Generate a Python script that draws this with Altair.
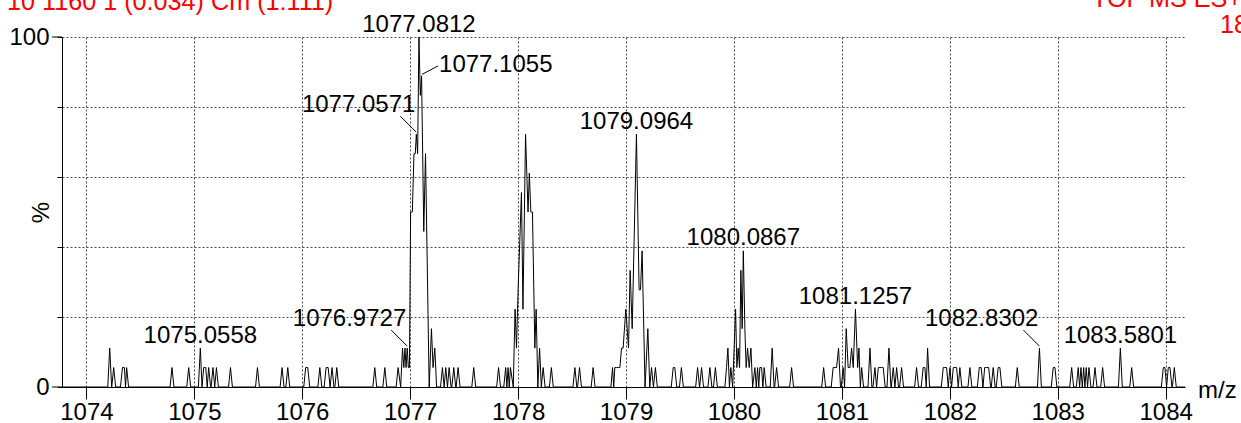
import altair as alt
import pandas as pd

# ---------------------------------------------------------------------------
# Spectrum data (intensities in detector counts; base peak = 18 counts = 100 %)
# ---------------------------------------------------------------------------
BASE_PEAK_COUNTS = 18
MZ_LO, MZ_HI = 1073.774, 1084.179
STEP = 0.018  # sampling interval of the profile (m/z)

HEADER_LEFT = "10 1160 1 (0.034) Cm (1:111)"
HEADER_RIGHT = "TOF MS ES+"

X_TICKS = list(range(1074, 1085))
Y_GRID = list(range(0, 101, 10))
Y_MAJOR = [0, 100]

# isotope clusters, profile samples
ISO_1077_MZ = [1076.912, 1076.929, 1076.941, 1076.952, 1076.962, 1076.9727, 1076.983, 1076.993,
               1077.004, 1077.020, 1077.035, 1077.047, 1077.0571, 1077.069, 1077.0812, 1077.094,
               1077.1055, 1077.126, 1077.142, 1077.176, 1077.197, 1077.212, 1077.228, 1077.245]
ISO_1077_CT = [0, 2, 1, 2, 1, 2, 1, 1,
               9, 9, 12, 12, 13, 12, 18, 15,
               16, 8, 12, 0, 3, 1, 2, 0]

ISO_1078_MZ = [1077.955, 1077.972, 1077.985, 1078.000, 1078.031, 1078.045, 1078.069, 1078.092,
               1078.104, 1078.118, 1078.133, 1078.155, 1078.167, 1078.183, 1078.199, 1078.215]
ISO_1078_CT = [0, 4, 2, 5, 10, 4, 13, 9,
               11, 9, 9, 2, 4, 0, 2, 0]

ISO_1079_MZ = [1078.860, 1078.875, 1078.886, 1078.896, 1078.912, 1078.927, 1078.943, 1078.958,
               1078.973, 1078.998, 1079.023, 1079.038, 1079.057, 1079.0964, 1079.121, 1079.134,
               1079.149, 1079.176, 1079.202, 1079.220]
ISO_1079_CT = [0, 1, 0, 1, 1, 1, 1, 2,
               2, 4, 2, 6, 3, 13, 5, 5,
               7, 0, 3, 0]

ISO_1080_MZ = [1079.916, 1079.931, 1079.944, 1079.958, 1079.971, 1079.988, 1080.015, 1080.027,
               1080.039, 1080.052, 1080.064, 1080.076, 1080.0867, 1080.101, 1080.113, 1080.126,
               1080.141, 1080.157, 1080.173]
ISO_1080_CT = [0, 1, 2, 0, 1, 0, 4, 1,
               2, 1, 6, 3, 7, 3, 1, 2,
               1, 2, 0]

ISO_1081_MZ = [1081.025, 1081.040, 1081.058, 1081.074, 1081.090, 1081.105, 1081.1257, 1081.146,
               1081.158, 1081.171]
ISO_1081_CT = [0, 3, 1, 1, 2, 1, 4, 1,
               2, 0]

# isolated single-sample noise spikes
NOISE_MZ = [1074.216, 1074.253, 1074.334, 1074.352, 1074.373, 1074.793, 1074.948, 1075.0558,
            1075.087, 1075.106, 1075.133, 1075.173, 1075.205, 1075.335, 1075.585, 1075.813,
            1075.866, 1076.032, 1076.051, 1076.163, 1076.221, 1076.240, 1076.276, 1076.320,
            1076.672, 1076.765, 1076.888,
            1077.299, 1077.330, 1077.361, 1077.404, 1077.444, 1077.589, 1077.819, 1077.885,
            1077.907, 1077.929,
            1078.232, 1078.308, 1078.526, 1078.569, 1078.695,
            1079.236, 1079.272, 1079.437, 1079.452, 1079.513, 1079.663, 1079.700, 1079.777,
            1079.828,
            1080.194, 1080.219, 1080.240, 1080.256, 1080.280, 1080.354, 1080.395, 1080.534,
            1080.831, 1080.919, 1080.935, 1080.951, 1080.969, 1081.012,
            1081.183, 1081.260, 1081.306, 1081.337, 1081.352, 1081.368, 1081.383, 1081.436,
            1081.476, 1081.507, 1081.553, 1081.692, 1081.753, 1081.769, 1081.794, 1081.939,
            1081.954, 1081.970, 1082.001, 1082.032, 1082.047, 1082.063, 1082.093, 1082.186,
            1082.273, 1082.291, 1082.323, 1082.341, 1082.360, 1082.402, 1082.448, 1082.464,
            1082.625, 1082.8302, 1082.958, 1082.974, 1083.129, 1083.190, 1083.215, 1083.240,
            1083.264, 1083.289, 1083.345, 1083.416, 1083.5801, 1083.685, 1083.978, 1083.993,
            1084.024, 1084.040, 1084.080]
NOISE_CT = [2, 1, 1, 1, 1, 1, 1, 2,
            1, 1, 1, 1, 1, 1, 1, 1,
            1, 1, 1, 1, 1, 1, 1, 1,
            1, 1, 1,
            1, 1, 1, 1, 1, 1, 1, 1,
            1, 1,
            1, 1, 1, 1, 1,
            1, 1, 1, 1, 1, 1, 1, 1,
            1,
            1, 1, 1, 1, 1, 2, 1, 1,
            1, 1, 1, 1, 2, 1,
            1, 2, 1, 1, 1, 1, 1, 2,
            1, 1, 1, 1, 1, 1, 2, 1,
            1, 1, 1, 1, 1, 1, 1, 1,
            1, 1, 1, 1, 1, 1, 1, 1,
            1, 2, 1, 1, 1, 1, 1, 1,
            1, 1, 1, 1, 2, 1, 1, 1,
            1, 1, 1]

# annotated peaks and where their labels sit
LABEL_MZ = [1075.0558, 1076.9727, 1077.0571, 1077.0812, 1077.1055,
            1079.0964, 1080.0867, 1081.1257, 1082.8302, 1083.5801]
LABEL_PLACEMENT = {1076.9727: "left", 1077.0571: "left", 1082.8302: "left", 1077.1055: "right"}

# ---------------------------------------------------------------------------
# Build the continuous profile trace
# ---------------------------------------------------------------------------
segments = [(ISO_1077_MZ, ISO_1077_CT), (ISO_1078_MZ, ISO_1078_CT), (ISO_1079_MZ, ISO_1079_CT),
            (ISO_1080_MZ, ISO_1080_CT), (ISO_1081_MZ, ISO_1081_CT)]
samples = []
for seg_id, (ms, cs) in enumerate(segments):
    samples += [(m, c, seg_id) for m, c in zip(ms, cs)]
samples += [(m, c, -1) for m, c in zip(NOISE_MZ, NOISE_CT)]
samples.sort()

trace = [(MZ_LO, 0)]
prev = (MZ_LO, 0, -2)
for m, c, s in samples:
    pm, pc, ps = prev
    if not (s == ps and s >= 0):
        gap = m - pm
        if gap > 2 * STEP:
            if pc:
                trace.append((pm + STEP, 0))
            if c:
                trace.append((m - STEP, 0))
        elif gap > 1.15 * STEP and pc and c:
            trace.append(((pm + m) / 2, 0))
    trace.append((m, c))
    prev = (m, c, s)
if prev[1]:
    trace.append((prev[0] + STEP, 0))
trace.append((MZ_HI, 0))

to_pct = 100.0 / BASE_PEAK_COUNTS
trace_df = pd.DataFrame({
    "i": range(len(trace)),
    "mz": [t[0] for t in trace],
    "pct": [t[1] * to_pct for t in trace],
})
counts_at = {m: c for m, c, _ in samples}

# ---------------------------------------------------------------------------
# Chart
# ---------------------------------------------------------------------------
FONT = "Liberation Sans"
FS = 24
HEADER_FS = 25.2
W, H = 1123, 350
GRID_COLOR = "#4a4a4a"
GRID_DASH = [2, 2]

x_scale = alt.Scale(domain=[MZ_LO, MZ_HI], nice=False, zero=False)
y_scale = alt.Scale(domain=[0, 100], nice=False, zero=True)

line = alt.Chart(trace_df).mark_line(color="black", strokeWidth=1).encode(
    x=alt.X("mz:Q", scale=x_scale, axis=alt.Axis(
        values=X_TICKS, format="d", title=None,
        labelFontSize=FS, labelFont=FONT, labelColor="black", labelPadding=1,
        labelFlush=False, labelOverlap=False,
        tickSize=12, tickColor="black", domainColor="black",
        grid=True, gridColor=GRID_COLOR, gridDash=GRID_DASH, gridWidth=1)),
    y=alt.Y("pct:Q", scale=y_scale, axis=alt.Axis(
        values=Y_GRID, format="d",
        labelExpr="datum.value == 0 || datum.value == 100 ? datum.label : ''",
        labelFontSize=FS, labelFont=FONT, labelColor="black", labelPadding=8,
        tickSize=5, tickColor="black", domainColor="black",
        grid=True, gridColor=GRID_COLOR, gridDash=GRID_DASH, gridWidth=1,
        title="%", titleFontSize=FS, titleFont=FONT, titleFontWeight="normal",
        titleColor="black", titleX=-21, titleY=H / 2, titleAngle=270,
        titleAlign="center", titleBaseline="middle")),
    order="i:Q",
)

major_ticks = alt.Chart(pd.DataFrame({"pct": Y_MAJOR})).mark_rule(
    color="black", strokeWidth=1).encode(
    y=alt.Y("pct:Q", scale=y_scale), x=alt.value(-10), x2=alt.value(0))

layers = [line, major_ticks]

STYLES = {
    "above": dict(align="center", dx=0, dy=-5.5, leader=None),
    "left": dict(align="right", dx=-1, dy=-22, leader=((-16, -18), (0, -2))),
    "right": dict(align="left", dx=17.5, dy=-4, leader=((0.5, -1.5), (16.5, -10))),
}

for m in LABEL_MZ:
    st = STYLES[LABEL_PLACEMENT.get(m, "above")]
    df = pd.DataFrame({"mz": [m], "pct": [counts_at[m] * to_pct], "label": [f"{m:.4f}"]})
    layers.append(alt.Chart(df).mark_text(
        align=st["align"], baseline="alphabetic", dx=st["dx"], dy=st["dy"],
        font=FONT, fontSize=FS, color="black").encode(
        x=alt.X("mz:Q", scale=x_scale), y=alt.Y("pct:Q", scale=y_scale), text="label:N"))
    if st["leader"]:
        (ax, ay), (bx, by) = st["leader"]
        layers.append(alt.Chart(df).mark_rule(
            color="black", strokeWidth=1,
            xOffset=ax, yOffset=ay, x2Offset=bx, y2Offset=by).encode(
            x=alt.X("mz:Q", scale=x_scale), x2="mz:Q",
            y=alt.Y("pct:Q", scale=y_scale), y2="pct:Q"))


def fixed_text(txt, x, y, color="black", size=FS):
    return alt.Chart(pd.DataFrame({"t": [txt]})).mark_text(
        align="left", baseline="alphabetic", font=FONT, fontSize=size, color=color).encode(
        x=alt.value(x), y=alt.value(y), text="t:N")


layers.append(fixed_text(HEADER_LEFT, -55, -26.8, color="#ff0000", size=HEADER_FS))
layers.append(fixed_text(HEADER_RIGHT, 1030, -30, color="#ff0000", size=HEADER_FS))
layers.append(fixed_text(str(BASE_PEAK_COUNTS), 1158, -4, color="#ff0000", size=HEADER_FS))
layers.append(fixed_text("m/z", 1136, 11 + H, color="black"))

chart = alt.layer(*layers).properties(
    width=W, height=H,
    autosize=alt.AutoSizeParams(type="none"),
    padding={"left": 62, "top": 37, "right": 56, "bottom": 36},
    background="white",
).configure_view(stroke=None)

chart.save("out.html", embed_options={"renderer": "svg", "actions": False})
